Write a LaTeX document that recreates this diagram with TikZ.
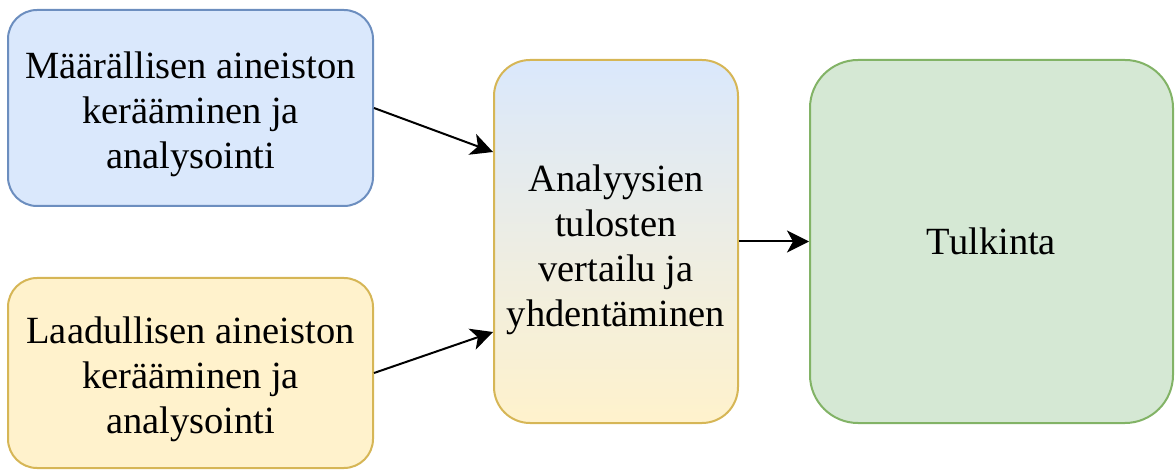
\documentclass[tikz,border=0pt]{standalone}
\usepackage{fontspec}
\setmainfont{Liberation Serif}
\usetikzlibrary{arrows.meta}
\definecolor{bluefill}{HTML}{DAE8FC}
\definecolor{bluestroke}{HTML}{6C8EBF}
\definecolor{yelfill}{HTML}{FFF2CC}
\definecolor{yelstroke}{HTML}{D6B656}
\definecolor{grnfill}{HTML}{D5E8D4}
\definecolor{grnstroke}{HTML}{82B366}
\tikzset{
  box/.style={draw, line width=2pt, inner sep=0pt},
  txt/.style={align=center, inner sep=0pt, font=\fontsize{38.5}{45}\selectfont},
  conn/.style={line width=2pt, -{Stealth[length=22pt,width=22pt,inset=6pt]}}
}
\begin{document}
\begin{tikzpicture}[x=1pt,y=-1pt]
\useasboundingbox (0,0) rectangle (1176,470);
\node[box, fill=bluefill, draw=bluestroke, rounded corners=29pt,
  minimum width=365pt, minimum height=196pt] (A) at (190.5,108) {};
\node[txt] (At) at (190.5,114) {Määrällisen aineiston\\kerääminen ja\\analysointi};
\node[box, fill=yelfill, draw=yelstroke, rounded corners=29pt,
  minimum width=365pt, minimum height=190pt] (B) at (190.5,373) {};
\node[txt] (Bt) at (190.5,379) {Laadullisen aineiston\\kerääminen ja\\analysointi};
\node[box, top color=bluefill, bottom color=yelfill, draw=yelstroke, rounded corners=36pt,
  minimum width=244pt, minimum height=363pt] (C) at (616,241.5) {};
\node[txt] (Ct) at (616,250) {Analyysien\\tulosten\\vertailu ja\\yhdentäminen};
\node[box, fill=grnfill, draw=grnstroke, rounded corners=48pt,
  minimum width=363pt, minimum height=363pt] (D) at (991.5,241.5) {};
\node[txt] (Dt) at (991.5,241.5) {Tulkinta};
\draw[conn] (A.east) -- (C.west |- 0,152);
\draw[conn] (B.east) -- (C.west |- 0,332);
\draw[conn] (C.east) -- (D.west);
\end{tikzpicture}
\end{document}
